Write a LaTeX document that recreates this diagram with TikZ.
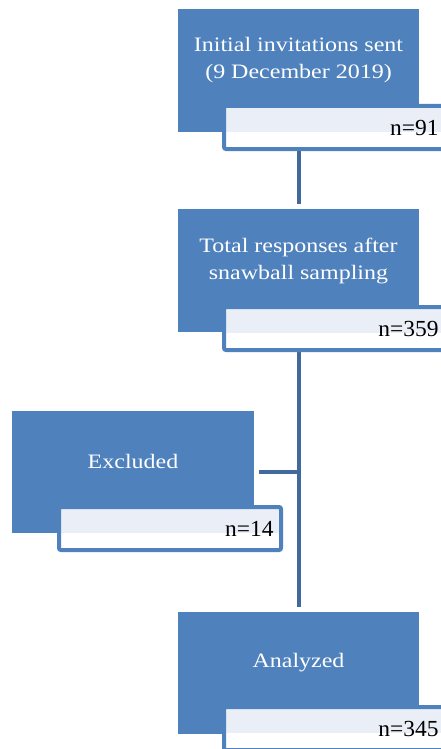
\documentclass[tikz,border=0pt]{standalone}
\usepackage{fontspec}
\setmainfont{Liberation Serif}[FakeStretch=1.17]
\newfontfamily\countfont{Liberation Serif}[FakeStretch=1.02]
\usetikzlibrary{backgrounds,calc}
\definecolor{boxblue}{RGB}{79,129,189}
\definecolor{linkblue}{RGB}{65,105,155}
\definecolor{lightfill}{RGB}{234,239,247}
\begin{document}
\begin{tikzpicture}[x=1pt,y=-1pt,
  bluebox/.style={fill=boxblue, draw=none, minimum width=241pt, minimum height=123pt, inner sep=0pt},
  boxtext/.style={text=white, font=\fontsize{20.5}{27}\selectfont, align=center, inner sep=0pt},
  countbox/.style={draw=boxblue, line width=4pt, fill=white, rounded corners=2pt,
    minimum width=222pt, minimum height=43pt, text width=207pt, align=right,
    inner xsep=7.5pt, inner ysep=0pt, font=\countfont\fontsize{23}{26}\selectfont,
    path picture={\fill[lightfill] (path picture bounding box.north west) rectangle
      ($(path picture bounding box.north east)!0.6!(path picture bounding box.south east)$);}},
  conn/.style={draw=linkblue, line width=4pt}]
\useasboundingbox (0,0) rectangle (441,749);
\clip (0,0) rectangle (441,749);

% blue boxes
\node[bluebox] (b1) at (298.5,70.5) {};
\node[bluebox] (b2) at (298.5,270.5) {};
\node[bluebox, minimum width=242pt, minimum height=122pt] (b3) at (133,472) {};
\node[bluebox, minimum height=122pt] (b4) at (298.5,673) {};

% count boxes
\node[countbox] (l1) at (335,127.5) {n=91};
\node[countbox] (l2) at (335,328.5) {n=359};
\node[countbox] (l3) at (170,528.5) {n=14};
\node[countbox] (l4) at (335,728.5) {n=345};

% box texts
\node[boxtext, yshift=-4pt] (t1) at ($(b1.north)!0.5!(b1.north |- l1.north)$) {Initial invitations sent\\(9 December 2019)};
\node[boxtext, yshift=-4pt] (t2) at ($(b2.north)!0.5!(b2.north |- l2.north)$) {Total responses after\\snawball sampling};
\node[boxtext, yshift=-4pt] (t3) at ($(b3.north)!0.5!(b3.north |- l3.north)$) {Excluded};
\node[boxtext, yshift=-4pt] (t4) at ($(b4.north)!0.5!(b4.north |- l4.north)$) {Analyzed};

% connectors
\begin{scope}[on background layer]
\fill[white] (0,0) rectangle (441,749);
\draw[conn] (b1.south) -- ([yshift=5pt]b2.north);
\draw[conn] (b2.south) -- ([yshift=5pt]b4.north);
\coordinate (j) at (b3.east -| b2.south);
\draw[conn] ([xshift=5pt]b3.east) -- (j);
\end{scope}
\end{tikzpicture}
\end{document}
